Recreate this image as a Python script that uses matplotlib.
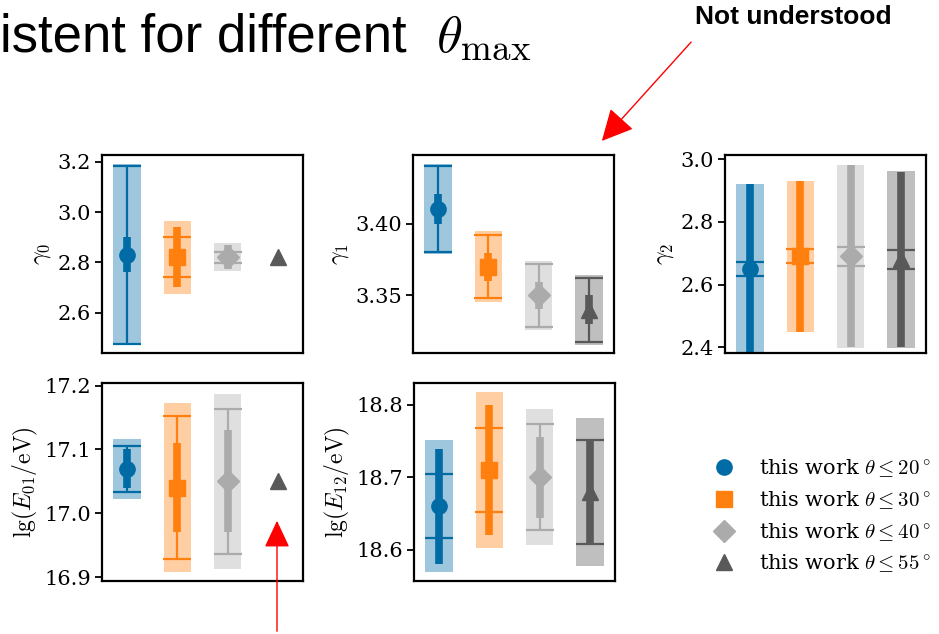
import numpy as np
import matplotlib
matplotlib.use('Agg')
import matplotlib.pyplot as plt
from matplotlib.lines import Line2D
from matplotlib.patches import FancyArrowPatch

plt.rcParams['font.family'] = ['DejaVu Serif']
plt.rcParams['mathtext.fontset'] = 'cm'

colors = ['#006BA4', '#FF800E', '#ABABAB', '#595959']
markers = ['o', 's', 'D', '^']
labels = [r'this work $\theta \leq 20^\circ$', r'this work $\theta \leq 30^\circ$',
          r'this work $\theta \leq 40^\circ$', r'this work $\theta \leq 55^\circ$']

# best fit, thick (stat) error, capped (sys) error, total band; None = fixed parameter
gamma0_val = [2.83, 2.82, 2.82, 2.82]
gamma0_stat = [0.07, 0.12, 0.048, None]
gamma0_sys = [0.355, 0.08, 0.022, None]
gamma0_tot = [0.36, 0.145, 0.055, None]

gamma1_val = [3.41, 3.37, 3.35, 3.34]
gamma1_stat = [0.0105, 0.0097, 0.0097, 0.010]
gamma1_sys = [0.030, 0.0219, 0.022, 0.0224]
gamma1_tot = [0.0312, 0.0247, 0.024, 0.0243]

gamma2_val = [2.65, 2.69, 2.69, 2.68]
gamma2_stat = [0.27, 0.24, 0.29, 0.28]
gamma2_sys = [0.022, 0.022, 0.031, 0.031]
gamma2_tot = [0.271, 0.241, 0.291, 0.282]

e01_val = [17.07, 17.04, 17.05, 17.05]
e01_stat = [0.030, 0.070, 0.080, None]
e01_sys = [0.036, 0.112, 0.114, None]
e01_tot = [0.047, 0.132, 0.137, None]

e12_val = [18.66, 18.71, 18.70, 18.68]
e12_stat = [0.079, 0.090, 0.056, 0.072]
e12_sys = [0.044, 0.058, 0.073, 0.072]
e12_tot = [0.091, 0.107, 0.094, 0.102]

panels = [
    (r'$\gamma_0$', gamma0_val, gamma0_stat, gamma0_sys, gamma0_tot, (2.439, 3.227), [2.6, 2.8, 3.0, 3.2], '%.1f'),
    (r'$\gamma_1$', gamma1_val, gamma1_stat, gamma1_sys, gamma1_tot, (3.310, 3.4477), [3.35, 3.40], '%.2f'),
    (r'$\gamma_2$', gamma2_val, gamma2_stat, gamma2_sys, gamma2_tot, (2.382, 3.013), [2.4, 2.6, 2.8, 3.0], '%.1f'),
    (r'$\mathrm{lg}(E_{01}/\mathrm{eV})$', e01_val, e01_stat, e01_sys, e01_tot, (16.894, 17.204), [16.9, 17.0, 17.1, 17.2], '%.1f'),
    (r'$\mathrm{lg}(E_{12}/\mathrm{eV})$', e12_val, e12_stat, e12_sys, e12_tot, (18.557, 18.830), [18.6, 18.7, 18.8], '%.1f'),
]

W, H = 939, 634
boxes = [(102, 155), (413, 155), (725, 155), (102, 383), (414, 383)]
aw, ah = 201, 198

fig = plt.figure(figsize=(W / 100, H / 100), dpi=100)

for (ylab, val, stat, sys, tot, ylim, ticks, fmt), (px, py) in zip(panels, boxes):
    ax = fig.add_axes([px / W, 1 - (py + ah) / H, aw / W, ah / H])
    for i in range(4):
        c = colors[i]
        if tot[i] is not None:
            ax.bar(i, 2 * tot[i], bottom=val[i] - tot[i], width=0.55, color=c, alpha=0.38, lw=0)
            ax.errorbar(i, val[i], yerr=stat[i], fmt='none', ecolor=c, elinewidth=5.5)
            ax.errorbar(i, val[i], yerr=sys[i], fmt='none', ecolor=c, elinewidth=1.6,
                        capsize=9.9, capthick=1.6)
        ax.plot(i, val[i], marker=markers[i], color=c, ms=11, ls='none')
    ax.set_xlim(-0.5, 3.5)
    ax.set_ylim(*ylim)
    ax.set_xticks([])
    ax.set_yticks(ticks)
    ax.set_yticklabels([fmt % t for t in ticks])
    ax.tick_params(axis='y', labelsize=15, length=5, width=1.3, pad=3)
    ax.set_ylabel(ylab, fontsize=17, labelpad=3)
    for s in ax.spines.values():
        s.set_linewidth(1.6)

handles = [Line2D([], [], marker=m, color=c, ls='none', ms=11) for m, c in zip(markers, colors)]
fig.legend(handles, labels, loc='upper left', bbox_to_anchor=(684 / W, 1 - 439 / H),
           frameon=False, fontsize=15, handletextpad=0.7, labelspacing=0.48)

fig.text(0, 1 - 52 / H, 'istent for different', family=['Liberation Sans Narrow', 'Liberation Sans'],
         fontsize=38, va='baseline', ha='left')
fig.text(436 / W, 1 - 52 / H, r'$\theta_{\max}$', fontsize=38, va='baseline', ha='left')
fig.text(793 / W, 1 - 17 / H, 'Not understood', family=['Liberation Sans Narrow', 'Liberation Sans'],
         fontweight='bold', fontsize=19, va='center', ha='center')

fig.add_artist(FancyArrowPatch((693 / W, 1 - 40 / H), (600 / W, 1 - 143 / H), transform=fig.transFigure,
                               arrowstyle='-|>,head_length=1.4,head_width=0.7', mutation_scale=14,
                               color='red', lw=1))
fig.add_artist(FancyArrowPatch((277 / W, 1 - 634 / H), (277 / W, 1 - 518 / H), transform=fig.transFigure,
                               arrowstyle='-|>,head_length=1.6,head_width=0.75', mutation_scale=10.5,
                               color='red', lw=1))

fig.savefig('out.png', dpi=100)
